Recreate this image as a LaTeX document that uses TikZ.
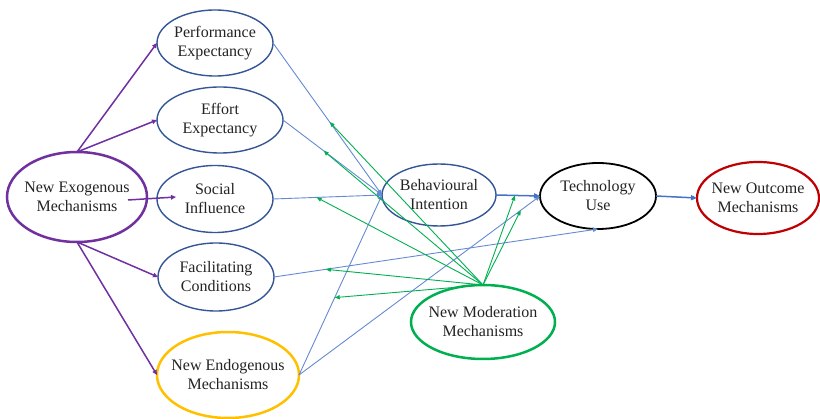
\documentclass[tikz,border=0pt]{standalone}
\usepackage{fontspec}
\setmainfont{Liberation Serif}
\usetikzlibrary{arrows.meta,shapes.geometric,calc}
\definecolor{nodeblue}{RGB}{52,86,150}
\definecolor{lineblue}{RGB}{100,138,210}
\definecolor{arrblue}{RGB}{68,114,196}
\definecolor{mygreen}{RGB}{0,176,80}
\definecolor{mypurple}{RGB}{112,48,160}
\definecolor{myyellow}{RGB}{255,192,0}
\definecolor{myred}{RGB}{192,0,0}
\definecolor{txt}{RGB}{35,35,35}
\begin{document}
\begin{tikzpicture}[x=1pt,y=-1pt,
  oval/.style={ellipse,draw=nodeblue,line width=1.4pt,inner sep=-15pt,outer sep=0pt,align=center,
     text=txt,font=\fontsize{16}{19}\selectfont},
  purplearrow/.style={draw=mypurple,line width=1.5pt,-{Triangle[length=5pt,width=4.5pt]}},
  bluearrow/.style={draw=lineblue,line width=0.9pt,-{Triangle[length=5pt,width=4.5pt]}},
  bluethick/.style={draw=arrblue,line width=1.5pt,-{Triangle[length=6pt,width=5pt]}},
  greenarrow/.style={draw=mygreen,line width=0.9pt,-{Triangle[length=5pt,width=4pt]}}]
\useasboundingbox (0,0) rectangle (820,419);
% nodes
\node[oval,draw=mypurple,line width=2.5pt,minimum width=140pt,minimum height=90pt] (exo) at (77,197) {New Exogenous\\Mechanisms};
\node[oval,minimum width=116pt,minimum height=66pt] (pe) at (215,43) {Performance\\Expectancy};
\node[oval,minimum width=126pt,minimum height=66pt] (ee) at (220,120) {Effort\\Expectancy};
\node[oval,minimum width=116pt,minimum height=67pt] (si) at (215,199) {Social\\Influence};
\node[oval,minimum width=116pt,minimum height=68pt] (fc) at (216,277) {Facilitating\\Conditions};
\node[oval,draw=myyellow,line width=2.5pt,minimum width=142pt,minimum height=86pt] (endo) at (228,375) {New Endogenous\\Mechanisms};
\node[oval,minimum width=114pt,minimum height=62pt] (bi) at (439,195) {Behavioural\\Intention};
\node[oval,draw=black,line width=1.8pt,minimum width=116pt,minimum height=66pt] (tu) at (598,196) {Technology\\Use};
\node[oval,draw=myred,line width=2.2pt,minimum width=122pt,minimum height=72pt] (oc) at (758,198) {New Outcome\\Mechanisms};
\node[oval,draw=mygreen,line width=2.5pt,minimum width=144pt,minimum height=74pt] (mod) at (483,322) {New Moderation\\Mechanisms};
% purple arrows
\coordinate (exoR) at (128,200);
\coordinate (siL) at (176,197);
\draw[purplearrow] (exo.north) -- (pe.west);
\draw[purplearrow] (exo.north) -- (ee.west);
\draw[purplearrow] (exoR) -- (siL);
\draw[purplearrow] (exo.south) -- (fc.west);
\draw[purplearrow] (exo.south) -- (endo.west);
% blue arrows
\draw[bluearrow] (pe.east) -- (bi.west) coordinate[pos=0.52] (g1);
\draw[bluearrow] (ee.east) -- (bi.west) coordinate[pos=0.41] (g2);
\draw[bluearrow] (si.east) -- (bi.west) coordinate[pos=0.40] (g3);
\draw[bluearrow] (fc.east) -- (tu.south) coordinate[pos=0.16] (g4);
\draw[bluearrow] (endo.east) -- (bi.west) coordinate[pos=0.43] (g5);
\draw[bluearrow] (endo.east) -- (tu.west) coordinate[pos=0.92] (g7);
\draw[bluethick] (bi.east) -- (tu.west) coordinate[pos=0.43] (g6);
\draw[bluethick] (tu.east) -- (oc.west);
% green moderation arrows
\foreach \g in {g1,g2,g3,g4,g5,g6,g7}
  \draw[greenarrow] (mod.north) -- (\g);
\end{tikzpicture}
\end{document}
